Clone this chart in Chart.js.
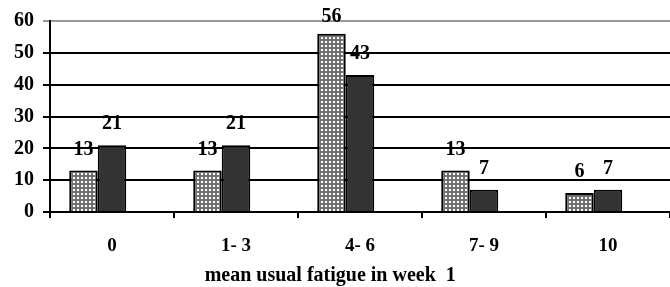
<!DOCTYPE html>
<html>
<head>
<meta charset="utf-8">
<script src="https://cdn.jsdelivr.net/npm/chart.js@4/dist/chart.umd.min.js"></script>
<style>
	html, body { margin: 0; padding: 0; background: #fff; }
	#wrap { width: 670px; height: 287px; }
</style>
</head>
<body>
<div id="wrap"><canvas id="barChart"></canvas></div>
<script>
var categories = ['0', '1- 3', '4- 6', '7- 9', '10'];
var seriesA = [13, 13, 56, 13, 6];
var seriesB = [21, 21, 43, 7, 7];
var seriesEmpty = [null, null, null, null, null]; // empty third series, keeps the bar slots like the original
var yTicks = [0, 10, 20, 30, 40, 50, 60];
var xTitle = 'mean usual fatigue in week  1';

// dotted grey fill
function dotPattern() {
	var c = document.createElement('canvas');
	c.width = 4; c.height = 4;
	var g = c.getContext('2d');
	g.fillStyle = '#707070';
	g.fillRect(0, 0, 4, 4);
	g.fillStyle = '#ffffff';
	g.fillRect(1, 1, 2, 2);
	return g.createPattern(c, 'repeat');
}

var valueLabels = {
	id: 'valueLabels',
	afterDatasetsDraw: function(chart) {
		var ctx = chart.ctx;
		ctx.save();
		ctx.font = 'bold 20px "Liberation Serif"';
		ctx.fillStyle = '#000';
		ctx.textAlign = 'center';
		ctx.textBaseline = 'middle';
		chart.data.datasets.forEach(function(ds, i) {
			chart.getDatasetMeta(i).data.forEach(function(bar, j) {
				if (ds.data[j] == null) return;
				var y = Math.max(bar.y - 21, 17);
				ctx.fillText(ds.data[j], bar.x, y);
			});
		});
		ctx.restore();
	}
};

// axis title sits left of the plot centre in the original
var axisTitle = {
	id: 'axisTitle',
	afterDraw: function(chart) {
		var ctx = chart.ctx;
		var area = chart.chartArea;
		ctx.save();
		ctx.font = 'bold 20px "Liberation Serif"';
		ctx.fillStyle = '#000';
		ctx.textAlign = 'center';
		ctx.textBaseline = 'middle';
		ctx.fillText(xTitle, area.left + (area.right - area.left) * 0.452, 276);
		ctx.restore();
	}
};

new Chart(document.getElementById('barChart'), {
	type: 'bar',
	data: {
		labels: categories,
		datasets: [
			{
				label: 'A',
				data: seriesA,
				backgroundColor: dotPattern(),
				borderColor: '#000',
				borderWidth: 2,
				borderSkipped: 'bottom',
				categoryPercentage: 0.69,
				barPercentage: 1
			},
			{
				label: 'B',
				data: seriesB,
				backgroundColor: '#333333',
				borderColor: '#000',
				borderWidth: 2,
				borderSkipped: 'bottom',
				categoryPercentage: 0.69,
				barPercentage: 1
			},
			{
				label: '',
				data: seriesEmpty,
				backgroundColor: 'rgba(0,0,0,0)',
				borderWidth: 0,
				categoryPercentage: 0.69,
				barPercentage: 1
			}
		]
	},
	options: {
		responsive: true,
		maintainAspectRatio: false,
		animation: false,
		layout: { padding: { top: 20, right: 0, left: 0, bottom: 0 } },
		plugins: {
			legend: { display: false },
			tooltip: { enabled: false }
		},
		scales: {
			x: {
				grid: {
					offset: true,
					drawOnChartArea: false,
					drawTicks: true,
					tickLength: 6,
					color: '#000',
					lineWidth: 2
				},
				border: { color: '#000', width: 2 },
				ticks: {
					color: '#000',
					font: { family: 'Liberation Serif', weight: 'bold', size: 19 },
					padding: 17
				},
				afterFit: function(s) { s.height = 75; }
			},
			y: {
				min: 0,
				max: 60,
				afterBuildTicks: function(s) {
					s.ticks = yTicks.map(function(v) { return { value: v }; });
				},
				grid: {
					color: function(c) { return c.tick && c.tick.value === 60 ? '#999' : '#000'; },
					lineWidth: 2,
					tickLength: 7
				},
				border: { color: '#000', width: 2 },
				ticks: {
					color: '#000',
					font: { family: 'Liberation Serif', weight: 'bold', size: 20 },
					padding: 9
				},
				afterFit: function(s) { s.width = 50; }
			}
		}
	},
	plugins: [valueLabels, axisTitle]
});
</script>
</body>
</html>
